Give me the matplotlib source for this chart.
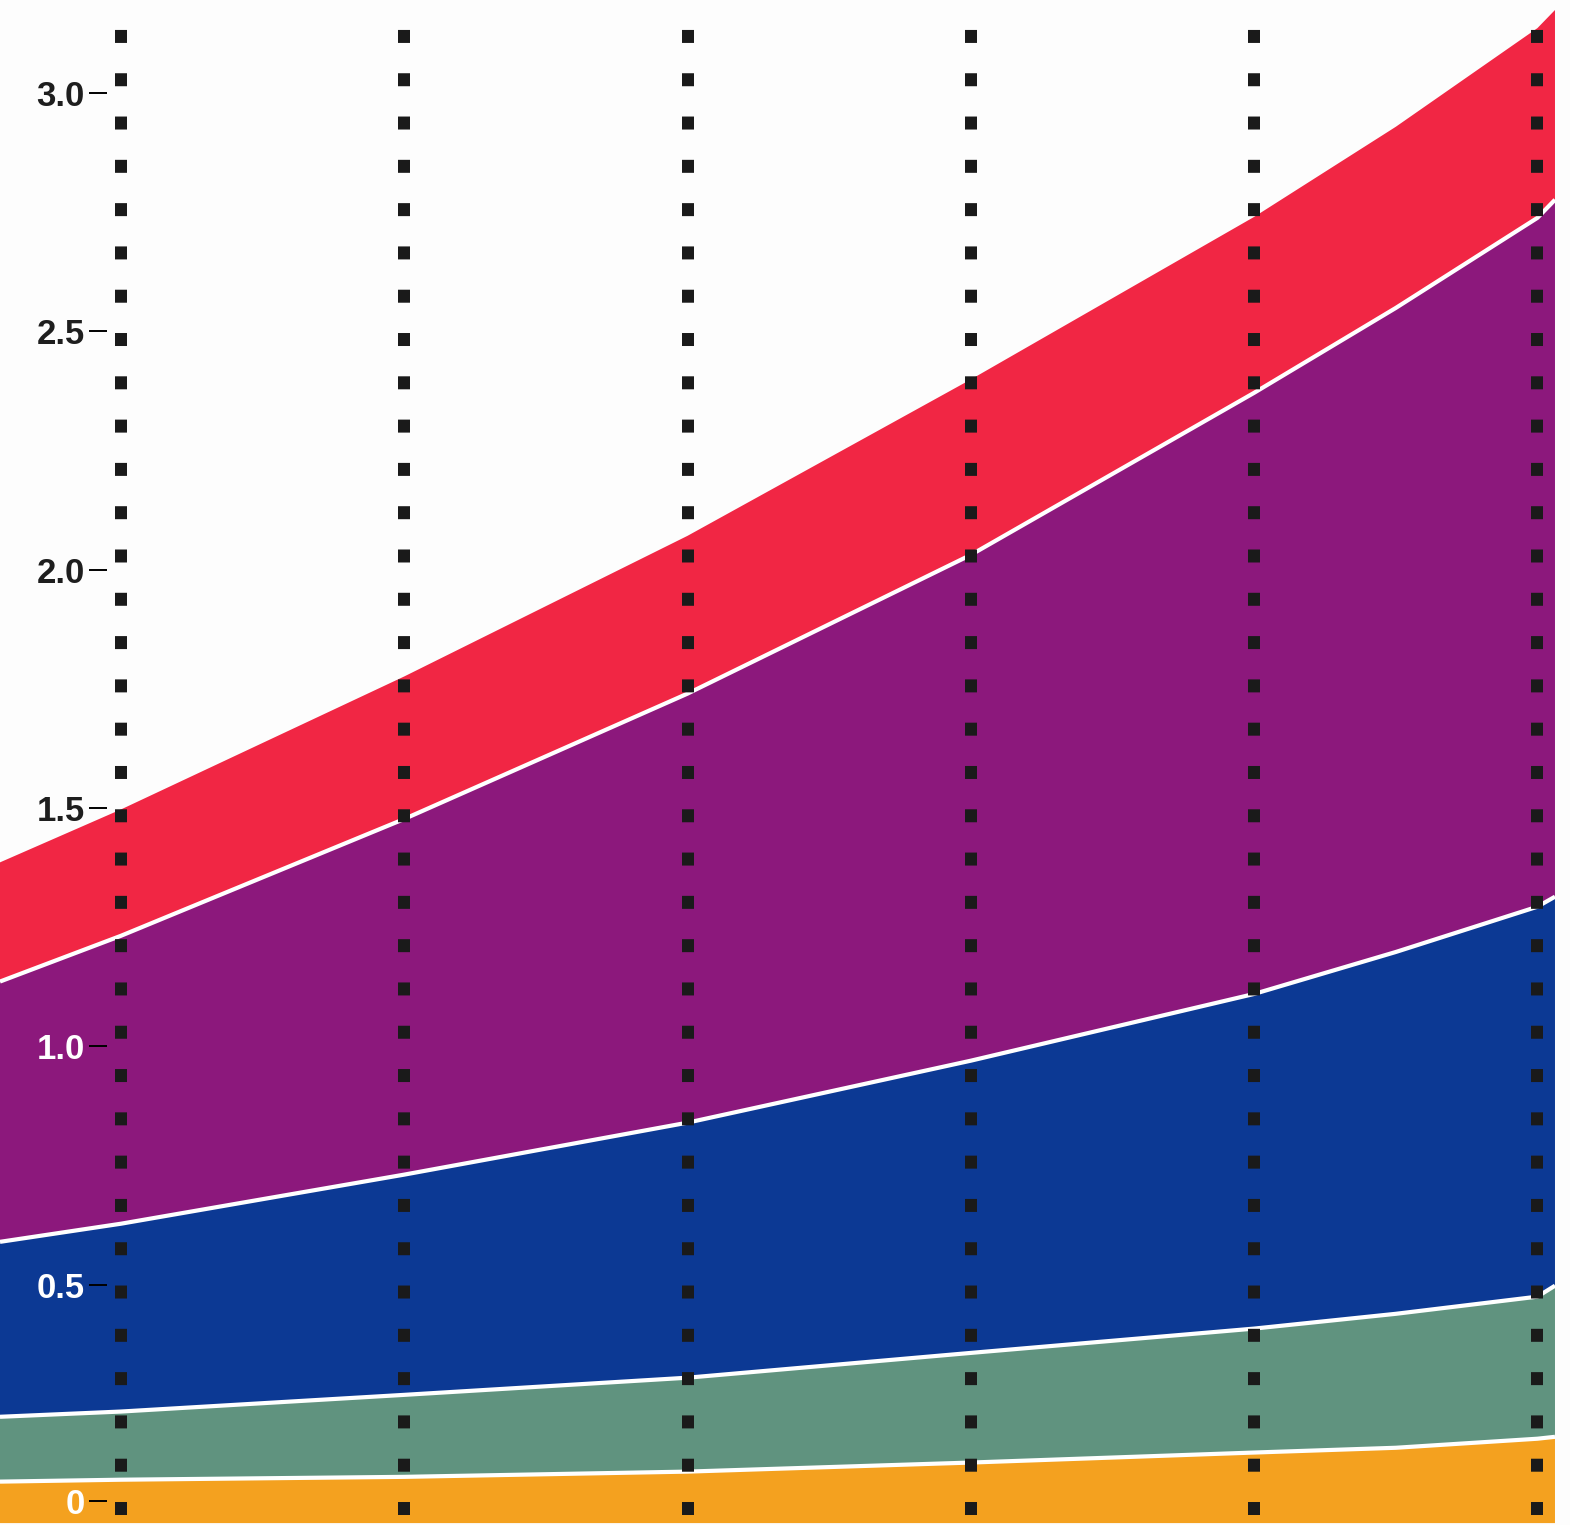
import numpy as np
import matplotlib
matplotlib.use("Agg")
import matplotlib.pyplot as plt

# positions along x: the six dotted columns are 0..5, the fill runs a bit past both ends
x = [-0.427, 0, 1, 2, 3, 4, 4.5, 5, 5.062]

# layer thicknesses, bottom to top
orange = [0.087, 0.091, 0.097, 0.108, 0.127, 0.148, 0.158, 0.177, 0.181]
green = [0.136, 0.143, 0.172, 0.197, 0.230, 0.260, 0.281, 0.298, 0.317]
blue = [0.367, 0.394, 0.462, 0.535, 0.613, 0.702, 0.759, 0.818, 0.816]
purple = [0.546, 0.604, 0.746, 0.900, 1.061, 1.261, 1.351, 1.445, 1.462]
red = [0.250, 0.265, 0.299, 0.331, 0.368, 0.369, 0.380, 0.398, 0.398]

columns = [0, 1, 2, 3, 4, 5]

tick_vals = [0.047, 0.5, 1.0, 1.5, 2.0, 2.5, 3.0]
tick_text = ["0", "0.5", "1.0", "1.5", "2.0", "2.5", "3.0"]
tick_colors = ["white", "white", "white", "#1e1e1e", "#1e1e1e", "#1e1e1e", "#1e1e1e"]

colors = ["#F4A11F", "#60937F", "#0C3994", "#8C187C", "#F12644"]
bg = "#fdfdfd"

fig = plt.figure(figsize=(15.7, 15.25), dpi=100)
fig.set_facecolor(bg)
ax = fig.add_axes([0, 0, 1, 1])
ax.set_facecolor(bg)

layers = [orange, green, blue, purple, red]
ax.stackplot(x, layers, colors=colors, linewidth=0)

# white seams between the layers
tops = np.cumsum(np.array(layers), axis=0)
for top in tops[:-1]:
    ax.plot(x, top, color="white", lw=3, solid_capstyle="butt",
            solid_joinstyle="round", zorder=3)

# dotted columns of square dots
for c in columns:
    ax.axvline(c, color="#1a1a1a", lw=8.64, linestyle=(2.775, (1.083, 2.525)),
               dash_capstyle="butt", zorder=4)

ax.set_xlim(-0.427, 5.115)
ax.set_ylim(-0.004, 3.195)

for s in ax.spines.values():
    s.set_visible(False)
ax.spines["left"].set_position(("axes", 107 / 1570))
ax.set_axisbelow(False)
ax.xaxis.set_visible(False)

ax.set_yticks(tick_vals, tick_text)
ax.tick_params(axis="y", direction="out", length=13, width=1.4, pad=3)
for lab in ax.get_yticklabels():
    lab.set_family(["Liberation Sans", "DejaVu Sans"])
    lab.set_fontweight("bold")
    lab.set_fontsize(25)
for t, c in zip(ax.yaxis.get_major_ticks(), tick_colors):
    t.label1.set_color(c)
    t.tick1line.set_color(c)

fig.savefig("out.png", dpi=100, facecolor=bg)
